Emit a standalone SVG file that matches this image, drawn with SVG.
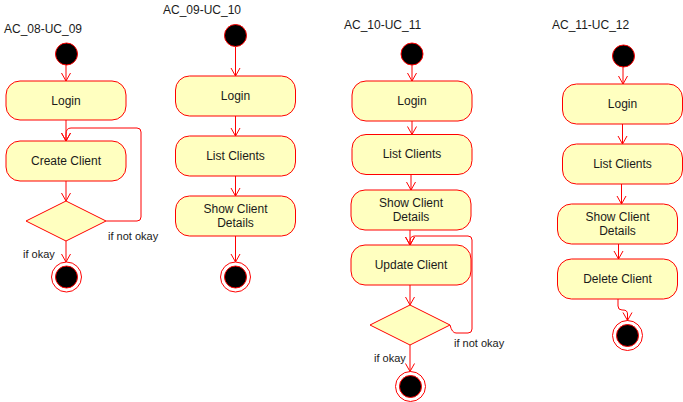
<svg xmlns="http://www.w3.org/2000/svg" width="683" height="402" viewBox="0 0 683 402">
<style>
.box{fill:#ffffc0;stroke:#ff0000;stroke-width:1}
.dia{fill:#ffffc0;stroke:#ff0000;stroke-width:1}
.init{fill:#000;stroke:#ff0000;stroke-width:1}
.fo{fill:#fff;stroke:#ff0000;stroke-width:1}
.fi{fill:#000;stroke:#ff0000;stroke-width:1}
.e{fill:none;stroke:#ff0000;stroke-width:1;marker-end:url(#arr)}
.t{font-family:"Liberation Sans",Arial,sans-serif;font-size:12px;fill:#1a1a1a;text-anchor:middle}
.title{font-family:"Liberation Sans",Arial,sans-serif;font-size:12px;fill:#1a1a1a}
.lbl{font-family:"Liberation Sans",Arial,sans-serif;font-size:11px;fill:#1a1a1a}
</style>
<defs>
<marker id="arr" markerUnits="userSpaceOnUse" viewBox="-10 -6 12 12" refX="0" refY="0" markerWidth="12" markerHeight="12" orient="auto" overflow="visible">
<path d="M-8,-4.5 L0,0 L-8,4.5" fill="none" stroke="#ff0000" stroke-width="1"/>
</marker>
</defs>

<!-- Diagram 1 -->
<text class="title" x="4" y="33">AC_08-UC_09</text>
<g id="d1-start"><circle class="init" cx="66.5" cy="54" r="11"/></g>
<g id="d1-login"><rect class="box" x="6" y="81" width="120" height="39" rx="14"/><text class="t" x="66" y="104.5">Login</text></g>
<g id="d1-create"><rect class="box" x="6" y="141" width="120" height="40" rx="14"/><text class="t" x="66" y="165">Create Client</text></g>
<g id="d1-dec"><polygon class="dia" points="66,201 106,221 66,241 26,221"/></g>
<g id="d1-end"><circle class="fo" cx="66.5" cy="277" r="15"/><circle class="fi" cx="66.5" cy="277" r="11"/></g>

<!-- Diagram 2 -->
<text class="title" x="163" y="14">AC_09-UC_10</text>
<g id="d2-start"><circle class="init" cx="235.5" cy="35.5" r="11"/></g>
<g id="d2-login"><rect class="box" x="175.5" y="76" width="120" height="40" rx="14"/><text class="t" x="235.5" y="100">Login</text></g>
<g id="d2-list"><rect class="box" x="175.5" y="136" width="120" height="40" rx="14"/><text class="t" x="235.5" y="160">List Clients</text></g>
<g id="d2-show"><rect class="box" x="175.5" y="196" width="120" height="40" rx="14"/><text class="t" x="235.5" y="212.5">Show Client</text><text class="t" x="235.5" y="226.5">Details</text></g>
<g id="d2-end"><circle class="fo" cx="235.5" cy="277" r="15"/><circle class="fi" cx="235.5" cy="277" r="11"/></g>

<!-- Diagram 3 -->
<text class="title" x="344" y="29">AC_10-UC_11</text>
<g id="d3-start"><circle class="init" cx="412" cy="54" r="11"/></g>
<g id="d3-login"><rect class="box" x="352" y="81" width="120" height="40" rx="14"/><text class="t" x="412" y="105">Login</text></g>
<g id="d3-list"><rect class="box" x="352" y="134.5" width="120" height="40" rx="14"/><text class="t" x="412" y="158">List Clients</text></g>
<g id="d3-show"><rect class="box" x="351" y="190" width="120" height="40" rx="14"/><text class="t" x="411" y="206.5">Show Client</text><text class="t" x="411" y="220.5">Details</text></g>
<g id="d3-update"><rect class="box" x="351" y="245" width="120" height="40" rx="14"/><text class="t" x="411" y="269">Update Client</text></g>
<g id="d3-dec"><polygon class="dia" points="410,305 450,325 410,345 370,325"/></g>
<g id="d3-end"><circle class="fo" cx="410.5" cy="386.5" r="15"/><circle class="fi" cx="410.5" cy="386.5" r="11"/></g>

<!-- Diagram 4 -->
<text class="title" x="552" y="29">AC_11-UC_12</text>
<g id="d4-start"><circle class="init" cx="623.5" cy="56" r="11"/></g>
<g id="d4-login"><rect class="box" x="562.5" y="84" width="120" height="40" rx="14"/><text class="t" x="622.5" y="108">Login</text></g>
<g id="d4-list"><rect class="box" x="562.5" y="144" width="120" height="40" rx="14"/><text class="t" x="622.5" y="168">List Clients</text></g>
<g id="d4-show"><rect class="box" x="557.5" y="204" width="120" height="40" rx="14"/><text class="t" x="617.5" y="220.5">Show Client</text><text class="t" x="617.5" y="234.5">Details</text></g>
<g id="d4-delete"><rect class="box" x="557.5" y="259" width="120" height="40" rx="14"/><text class="t" x="617.5" y="283">Delete Client</text></g>
<g id="d4-end"><circle class="fo" cx="627.5" cy="335.5" r="15"/><circle class="fi" cx="627.5" cy="335.5" r="11"/></g>

<g id="connectors">
<!-- d1 -->
<path class="e" d="M66,65 V81"/>
<path class="e" d="M66,120 V141"/>
<path class="e" d="M106,221 H137 Q141,221 141,217 V132 Q141,128 137,128 H71 Q66,128 66,134 V141"/>
<path class="e" d="M66,181 V201"/>
<path class="e" d="M66,241 V262"/>
<!-- d2 -->
<path class="e" d="M235.5,47 V76"/>
<path class="e" d="M235.5,116 V136"/>
<path class="e" d="M235.5,176 V196"/>
<path class="e" d="M235.5,236 V262"/>
<!-- d3 -->
<path class="e" d="M412,65 V81"/>
<path class="e" d="M412,121 V134.5"/>
<path class="e" d="M411,174.5 V190"/>
<path class="e" d="M410,230 V245"/>
<path class="e" d="M450,325 Q452,333 456,333 H468 Q472,333 472,329 V240 Q472,236 468,236 H415 Q410,236 410,241 V245"/>
<path class="e" d="M410,285 V305"/>
<path class="e" d="M410,345 V371.5"/>
<!-- d4 -->
<path class="e" d="M623,67 V84"/>
<path class="e" d="M622.5,124 V144"/>
<path class="e" d="M621.5,184 V204"/>
<path class="e" d="M618.5,244 V259"/>
<path class="e" d="M618,299 V306 Q618,310 622,310 H623 Q627.5,310 627.5,314 V320.5"/>
</g>

<text class="lbl" x="108" y="239.5">if not okay</text>
<text class="lbl" x="23" y="258">if okay</text>
<text class="lbl" x="454" y="347">if not okay</text>
<text class="lbl" x="374" y="362">if okay</text>
</svg>
